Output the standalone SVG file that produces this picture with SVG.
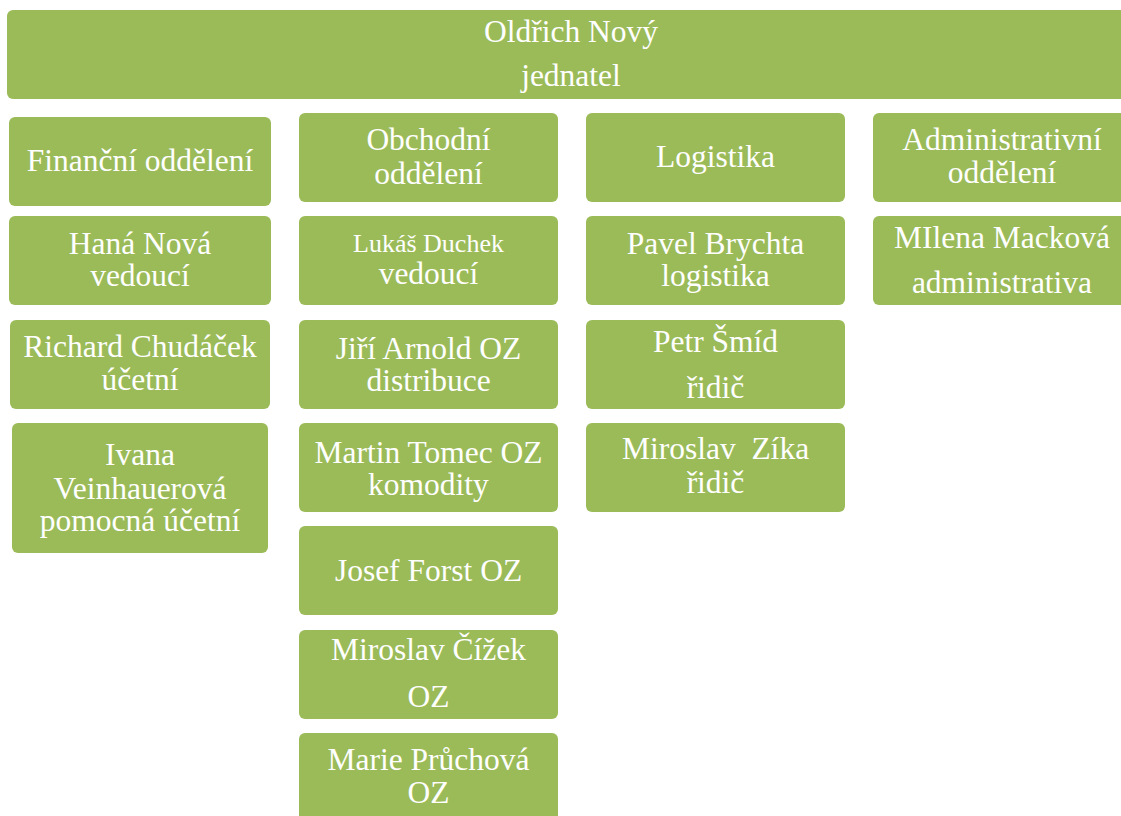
<svg xmlns="http://www.w3.org/2000/svg" width="1121" height="816" viewBox="0 0 1121 816">
<style>
.b{fill:#9BBB59;}
.t{font-family:"Liberation Serif","Times New Roman",serif;font-size:31.5px;fill:#FFFFFF;text-anchor:middle;}
.s{font-size:26px;}
</style>
<rect width="1121" height="816" fill="#FFFFFF"/>
<g id="connectors"></g>
<g id="n-top"><rect class="b" x="7" y="10" width="1130" height="89" rx="6"/><text class="t" x="571" y="42">Oldřich Nový</text><text class="t" x="571" y="86">jednatel</text></g>
<g id="n-fin"><rect class="b" x="9" y="117" width="262" height="89" rx="6"/><text class="t" x="140" y="171">Finanční oddělení</text></g>
<g id="n-hana"><rect class="b" x="9" y="216" width="262" height="89" rx="6"/><text class="t" x="140" y="254">Haná Nová</text><text class="t" x="140" y="286">vedoucí</text></g>
<g id="n-richard"><rect class="b" x="10" y="320" width="260" height="89" rx="6"/><text class="t" x="140" y="357">Richard Chudáček</text><text class="t" x="140" y="390">účetní</text></g>
<g id="n-ivana"><rect class="b" x="12" y="423" width="256" height="130" rx="6"/><text class="t" x="140" y="465">Ivana</text><text class="t" x="140" y="499">Veinhauerová</text><text class="t" x="140" y="531">pomocná účetní</text></g>
<g id="n-obch"><rect class="b" x="299" y="113" width="259" height="89" rx="6"/><text class="t" x="428.5" y="150">Obchodní</text><text class="t" x="428.5" y="184">oddělení</text></g>
<g id="n-lukas"><rect class="b" x="299" y="216" width="259" height="89" rx="6"/><text class="t s" x="428.5" y="252">Lukáš Duchek</text><text class="t" x="428.5" y="284">vedoucí</text></g>
<g id="n-jiri"><rect class="b" x="299" y="320" width="259" height="89" rx="6"/><text class="t" x="428.5" y="359">Jiří Arnold OZ</text><text class="t" x="428.5" y="391">distribuce</text></g>
<g id="n-martin"><rect class="b" x="299" y="423" width="259" height="89" rx="6"/><text class="t" x="428.5" y="463">Martin Tomec OZ</text><text class="t" x="428.5" y="495">komodity</text></g>
<g id="n-josef"><rect class="b" x="299" y="526" width="259" height="89" rx="6"/><text class="t" x="428.5" y="581">Josef Forst OZ</text></g>
<g id="n-cizek"><rect class="b" x="299" y="630" width="259" height="89" rx="6"/><text class="t" x="428.5" y="660">Miroslav Čížek</text><text class="t" x="428.5" y="707">OZ</text></g>
<g id="n-marie"><rect class="b" x="299" y="733" width="259" height="100" rx="6"/><text class="t" x="428.5" y="770">Marie Průchová</text><text class="t" x="428.5" y="803">OZ</text></g>
<g id="n-log"><rect class="b" x="586" y="113" width="259" height="89" rx="6"/><text class="t" x="715.5" y="167">Logistika</text></g>
<g id="n-pavel"><rect class="b" x="586" y="216" width="259" height="89" rx="6"/><text class="t" x="715.5" y="254">Pavel Brychta</text><text class="t" x="715.5" y="286">logistika</text></g>
<g id="n-petr"><rect class="b" x="586" y="320" width="259" height="89" rx="6"/><text class="t" x="715.5" y="352">Petr Šmíd</text><text class="t" x="715.5" y="398">řidič</text></g>
<g id="n-zika"><rect class="b" x="586" y="423" width="259" height="89" rx="6"/><text class="t" x="715.5" y="459" xml:space="preserve">Miroslav  Zíka</text><text class="t" x="715.5" y="493">řidič</text></g>
<g id="n-adm"><rect class="b" x="873" y="113" width="259" height="89" rx="6"/><text class="t" x="1002" y="150">Administrativní</text><text class="t" x="1002" y="183">oddělení</text></g>
<g id="n-milena"><rect class="b" x="873" y="216" width="259" height="89" rx="6"/><text class="t" x="1002" y="248">MIlena Macková</text><text class="t" x="1002" y="293">administrativa</text></g>
</svg>
